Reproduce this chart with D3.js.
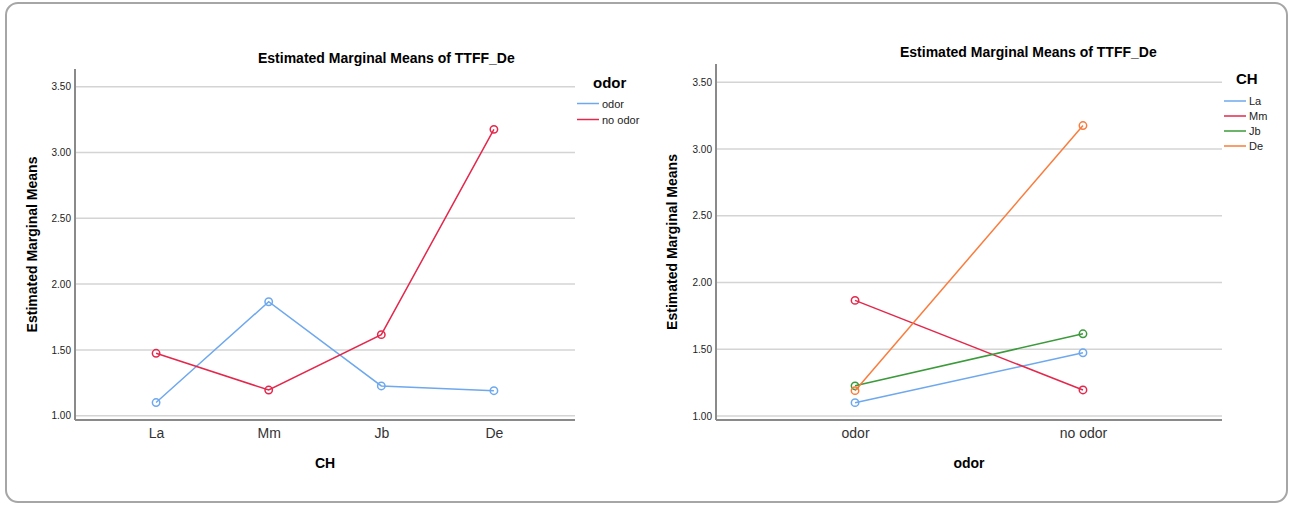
<!DOCTYPE html>
<html>
<head>
<meta charset="utf-8">
<script src="https://cdn.jsdelivr.net/npm/d3@7"></script>
<style>
  body { margin: 0; background: #fff; }
  svg { display: block; font-family: "Liberation Sans", Arial, sans-serif; }
</style>
</head>
<body>
<script>
// estimated marginal means
const chLevels = ["La", "Mm", "Jb", "De"];
const odorLevels = ["odor", "no odor"];
const meansOdor = [1.10, 1.866, 1.226, 1.19];
const meansNoOdor = [1.474, 1.195, 1.616, 3.176];
const yTicks = [1.00, 1.50, 2.00, 2.50, 3.00, 3.50];

const odorColors = ["#6ea8ee", "#e3284c"];
const chColors = ["#6ea8ee", "#e3284c", "#3b9a3b", "#f97c3c"];

const svg = d3.select("body").append("svg")
    .attr("width", 1292)
    .attr("height", 505);

svg.append("rect")
    .attr("x", 6).attr("y", 3)
    .attr("width", 1281).attr("height", 499)
    .attr("rx", 12)
    .attr("fill", "none")
    .attr("stroke", "#a6a6a6")
    .attr("stroke-width", 2);

const byOdor = [meansOdor, meansNoOdor];

function drawPanel(opt){
    const g = svg.append("g");
    const y = d3.scaleLinear().domain([1, 3.5]).range([opt.y1, opt.y35]);
    const x = d3.scalePoint().domain(opt.cats).range([opt.left, opt.right]).padding(opt.pad);

    // grid
    g.selectAll("line.grid").data(yTicks).enter().append("line")
        .attr("x1", opt.left).attr("x2", opt.right)
        .attr("y1", d => y(d)).attr("y2", d => y(d))
        .attr("stroke", "#d4d4d4").attr("stroke-width", 1.5);

    // y axis
    const yAxis = g.append("g")
        .attr("transform", "translate(" + opt.left + ",0)")
        .call(d3.axisLeft(y).tickValues(yTicks).tickFormat(d3.format(".2f")).tickSize(0).tickPadding(4));
    yAxis.select(".domain").remove();
    yAxis.selectAll("text").attr("font-size", 10).attr("fill", "#222").attr("font-family", "Liberation Sans, Arial");

    g.append("line")
        .attr("x1", opt.left).attr("x2", opt.left)
        .attr("y1", opt.top).attr("y2", opt.bottom)
        .attr("stroke", "#8a8a8a").attr("stroke-width", 2);
    g.append("line")
        .attr("x1", opt.left).attr("x2", opt.right)
        .attr("y1", opt.bottom).attr("y2", opt.bottom)
        .attr("stroke", "#8a8a8a").attr("stroke-width", 2);

    // x labels
    const xAxis = g.append("g")
        .attr("transform", "translate(0," + opt.bottom + ")")
        .call(d3.axisBottom(x).tickSize(0).tickPadding(8));
    xAxis.select(".domain").remove();
    xAxis.selectAll("text").attr("font-size", 14).attr("fill", "#333").attr("font-family", "Liberation Sans, Arial");

    // lines
    const line = d3.line().x((d, i) => x(opt.cats[i])).y(d => y(d));
    opt.series.forEach((vals, si) => {
        g.append("path")
            .attr("d", line(vals))
            .attr("fill", "none")
            .attr("stroke", opt.colors[si])
            .attr("stroke-width", 1.5);
        g.selectAll(null).data(vals).enter().append("circle")
            .attr("cx", (d, i) => x(opt.cats[i]))
            .attr("cy", d => y(d))
            .attr("r", 3.7)
            .attr("fill", "none")
            .attr("stroke", opt.colors[si])
            .attr("stroke-width", 1.5);
    });

    // titles
    g.append("text")
        .attr("x", opt.titleX).attr("y", opt.titleY)
        .attr("font-size", 14).attr("font-weight", "bold")
        .text("Estimated Marginal Means of TTFF_De");
    g.append("text")
        .attr("transform", "translate(" + opt.yLabX + "," + ((opt.top + opt.bottom) / 2) + ") rotate(-90)")
        .attr("text-anchor", "middle")
        .attr("font-size", 14).attr("font-weight", "bold")
        .text("Estimated Marginal Means");
    g.append("text")
        .attr("x", (opt.left + opt.right) / 2).attr("y", 468)
        .attr("text-anchor", "middle")
        .attr("font-size", 14).attr("font-weight", "bold")
        .text(opt.xTitle);

    // legend
    const lg = g.append("g").attr("transform", "translate(" + opt.legX + "," + opt.legY + ")");
    lg.append("text")
        .attr("x", opt.legTitleDx).attr("y", 0)
        .attr("font-size", 15).attr("font-weight", "bold")
        .text(opt.legTitle);
    opt.legItems.forEach((name, i) => {
        const yy = opt.legFirst + i * opt.legStep;
        lg.append("line")
            .attr("x1", 0).attr("x2", 22)
            .attr("y1", yy).attr("y2", yy)
            .attr("stroke", opt.colors[i]).attr("stroke-width", 1.5);
        lg.append("text")
            .attr("x", 25).attr("y", yy + 4)
            .attr("font-size", 11).attr("fill", "#222")
            .text(name);
    });
}

// left: x = CH, lines = odor
drawPanel({
    left: 75, right: 575, top: 69, bottom: 420,
    y1: 415.7, y35: 86.7,
    cats: chLevels, pad: 0.72,
    series: byOdor,
    colors: odorColors,
    titleX: 258, titleY: 63,
    yLabX: 37, xTitle: "CH",
    legX: 577, legY: 88, legTitle: "odor", legTitleDx: 16,
    legItems: odorLevels, legFirst: 15.5, legStep: 16
});

// right: x = odor, lines = CH
const byCh = chLevels.map((c, i) => [meansOdor[i], meansNoOdor[i]]);
drawPanel({
    left: 716, right: 1222, top: 64, bottom: 420,
    y1: 416, y35: 82.3,
    cats: odorLevels, pad: 0.61,
    series: byCh,
    colors: chColors,
    titleX: 900, titleY: 57,
    yLabX: 677, xTitle: "odor",
    legX: 1224, legY: 84, legTitle: "CH", legTitleDx: 12,
    legItems: chLevels, legFirst: 17, legStep: 15
});
</script>
</body>
</html>
